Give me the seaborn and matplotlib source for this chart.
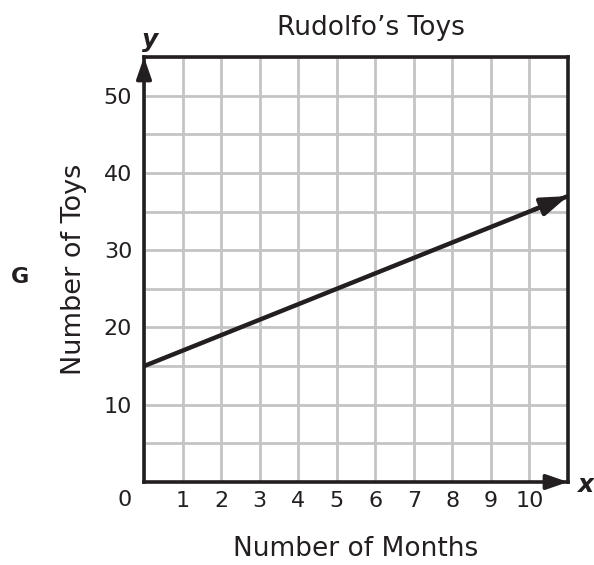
import seaborn as sns
import matplotlib.pyplot as plt
import pandas as pd
import numpy as np

months = [0, 11]
toys = [15, 37]
x_ticks = [1, 2, 3, 4, 5, 6, 7, 8, 9, 10]
y_ticks = [10, 20, 30, 40, 50]

sns.set_style('white')
plt.rcParams['font.family'] = ['DejaVu Sans']
ink = '#231f20'

fig = plt.figure(figsize=(5.94, 5.65), dpi=100)
ax = fig.add_axes([144 / 594, 1 - 482 / 565, 424 / 594, 425 / 565])

df = pd.DataFrame({'Months': months, 'Toys': toys})
sns.lineplot(data=df, x='Months', y='Toys', color=ink, linewidth=3.2, ax=ax, zorder=3)
ax.annotate('', xy=(df['Months'].iloc[-1], df['Toys'].iloc[-1]),
            xytext=(df['Months'].iloc[-1] - 0.9, df['Toys'].iloc[-1] - 1.8),
            arrowprops=dict(arrowstyle='-|>,head_length=1.6,head_width=0.55',
                            color=ink, lw=3.2, shrinkA=0, shrinkB=0), zorder=4)

ax.set_xlim(0, 11)
ax.set_ylim(0, 55)
ax.set_xticks(x_ticks)
ax.set_yticks(y_ticks)
ax.set_xticks(np.arange(0, 12, 1), minor=True)
ax.set_yticks(np.arange(0, 60, 5), minor=True)
ax.grid(which='both', color='#c4c4c4', linewidth=2)
ax.set_axisbelow(True)
ax.tick_params(which='both', length=0, labelsize=16, colors=ink)
ax.tick_params(axis='x', pad=6.5)
ax.tick_params(axis='y', pad=8.5)

for s in ax.spines.values():
    s.set_color(ink)
    s.set_linewidth(2.6)
    s.set_zorder(5)

# axis arrows, tips on the spine ends
ax.annotate('', xy=(1, 0), xytext=(0.95, 0), xycoords='axes fraction',
            arrowprops=dict(arrowstyle='-|>,head_length=1.3,head_width=0.45',
                            color=ink, lw=2.6, shrinkA=0, shrinkB=0), zorder=6)
ax.annotate('', xy=(0, 1), xytext=(0, 0.95), xycoords='axes fraction',
            arrowprops=dict(arrowstyle='-|>,head_length=1.3,head_width=0.45',
                            color=ink, lw=2.6, shrinkA=0, shrinkB=0), zorder=6)

ax.set_xlabel('Number of Months', fontsize=19, color=ink, labelpad=18)
ax.set_ylabel('Number of Toys', fontsize=19.5, color=ink, labelpad=12)
ax.set_title('Rudolfo\u2019s Toys', fontsize=19, color=ink, pad=16, x=0.535)

fig.text(125 / 594, 1 - 500 / 565, '0', fontsize=16, color=ink, ha='center', va='center')
fig.text(150 / 594, 1 - 40 / 565, 'y', fontsize=18, color=ink, ha='center', va='center',
         fontweight='bold', fontstyle='italic')
fig.text(585 / 594, 1 - 485 / 565, 'x', fontsize=18, color=ink, ha='center', va='center',
         fontweight='bold', fontstyle='italic')
fig.text(20 / 594, 1 - 277 / 565, 'G', fontsize=16, color=ink, ha='center', va='center',
         fontweight='bold')

fig.savefig('out.png', dpi=100)
